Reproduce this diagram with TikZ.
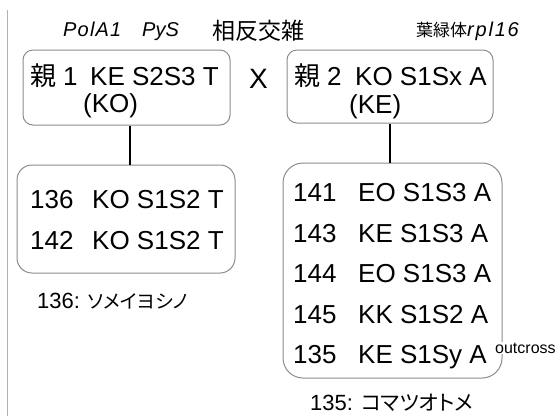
\documentclass[tikz,border=0pt]{standalone}
\usepackage{fontspec}
\setmainfont{Liberation Sans}
\newfontfamily\jp{Noto Sans CJK JP}
\newfontfamily\jpp[RawFeature=+palt]{Noto Sans CJK JP}
\begin{document}
\begin{tikzpicture}[x=1pt,y=-1pt,
  box/.style={draw=black!45, line width=1pt, rounded corners=#1, inner sep=0pt},
  txt/.style={anchor=base west, inner sep=0pt, font=\fontsize{26}{30}\selectfont},
  hdr/.style={anchor=base west, inner sep=0pt, font=\fontsize{20}{24}\selectfont},
  captxt/.style={anchor=base west, inner sep=0pt, font=\fontsize{22}{26}\selectfont},
  link/.style={draw=black, line width=1.6pt}]
\useasboundingbox (0,0) rectangle (558,416);
\draw[black!30, line width=1pt] (7,10) -- (7,416);

% header labels
\node[hdr] (h1) at (63,36) {\itshape\addfontfeatures{LetterSpace=6}PolA1};
\node[hdr] (h1b) at (142,36) {\itshape PyS};
\node[hdr, font=\fontsize{23}{26}\selectfont\jp] (h2) at (212,39) {相反交雑};
\node[hdr] (h3) at (416,36) {{\jp\fontsize{17}{20}\selectfont 葉緑体}{\fontsize{20}{24}\selectfont\itshape\addfontfeatures{LetterSpace=9}rpl16}};

% parent boxes
\node[box=10pt, minimum width=207pt, minimum height=75pt] (b1) at (126.5,87.5) {};
\node[box=10pt, minimum width=206pt, minimum height=73pt] (b2) at (390,86.5) {};
\node[txt] (p1a) at (30,85) {{\jp 親}\hspace{7pt}1};
\node[txt] (p1b) at (90,85) {KE S2S3 T};
\node[txt] (p1c) at (83,112) {(KO)};
\node[txt] (p2a) at (294,85) {{\jp 親}\hspace{7pt}2};
\node[txt] (p2b) at (355,85) {KO S1Sx A};
\node[txt] (p2c) at (349,113) {(KE)};
\node[txt, font=\fontsize{28}{30}\selectfont] (x) at (249,88) {X};

% offspring boxes
\node[box=15pt, minimum width=218pt, minimum height=108pt] (b3) at (126,219) {};
\node[box=20pt, minimum width=219pt, minimum height=215pt] (b4) at (392.5,270.5) {};

\draw[link] (b1.south -| 130,0) -- (b3.north -| 130,0);
\draw[link] (b2.south) -- (b4.north -| b2.south);

\node[txt] (r1a) at (30,208) {136};
\node[txt] (r1b) at (92,208) {KO S1S2 T};
\node[txt] (r2a) at (30,249) {142};
\node[txt] (r2b) at (92,249) {KO S1S2 T};

\node[txt] (s1a) at (293,201) {141};
\node[txt] (s1b) at (358,201) {EO S1S3 A};
\node[txt] (s2a) at (293,242) {143};
\node[txt] (s2b) at (358,242) {KE S1S3 A};
\node[txt] (s3a) at (293,282.5) {144};
\node[txt] (s3b) at (358,282.5) {EO S1S3 A};
\node[txt] (s4a) at (293,323) {145};
\node[txt] (s4b) at (358,323) {KK S1S2 A};
\node[txt] (s5a) at (293,363.5) {135};
\node[txt] (s5b) at (358,363.5) {KE S1Sy A};
\node[anchor=base west, inner sep=1pt, fill=white, font=\fontsize{16}{18}\selectfont] (oc) at (494,353) {outcross};

% captions
\node[captxt] (c1) at (37,308) {136: {\jpp\fontsize{19}{24}\selectfont ソメイヨシノ}};
\node[captxt] (c2) at (310,410) {135: {\jpp\fontsize{21}{24}\selectfont コマツオトメ}};
\end{tikzpicture}
\end{document}
